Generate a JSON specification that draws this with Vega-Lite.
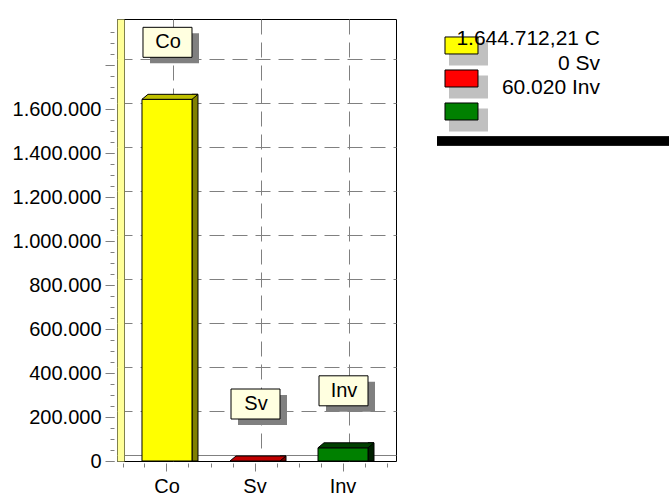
{
  "$schema": "https://vega.github.io/schema/vega-lite/v6.json",
  "padding": {"left": 11, "top": 18, "right": 0, "bottom": 0},
  "background": "white",
  "datasets": {
    "bars": [
      {"name": "Co", "value": 1644712.21, "legend": "1.644.712,21 C"},
      {"name": "Sv", "value": 0, "legend": "0 Sv"},
      {"name": "Inv", "value": 60020, "legend": "60.020 Inv"}
    ]
  },
  "spacing": 35,
  "hconcat": [
    {
      "width": 279,
      "height": 442,
      "data": {"name": "bars"},
      "view": {"stroke": "black", "strokeWidth": 1},
      "resolve": {"scale": {"fill": "independent"}, "axis": {"x": "independent", "y": "independent"}},
      "layer": [
        {
          "mark": {"type": "bar", "width": 6, "xOffset": 28, "yOffset": -5, "stroke": "black", "strokeWidth": 1},
          "encoding": {
            "x": {"field": "name", "type": "nominal", "sort": null,
              "axis": {"orient": "bottom", "bandPosition": 0.25, "tickSize": 4, "offset": 2, "labels": false, "domain": false, "grid": false, "title": null, "tickColor": "#808080"}},
            "y": {"field": "value", "type": "quantitative",
              "axis": {"orient": "left", "values": [], "ticks": false, "labels": false, "grid": false, "domain": true, "domainColor": "black", "domainWidth": 1, "offset": -7, "title": null}},
            "y2": {"datum": 0},
            "fill": {"field": "name", "type": "nominal", "scale": {"domain": ["Co", "Sv", "Inv"], "range": ["#808000", "#800000", "#002000"]}, "legend": null}
          }
        },
        {
          "mark": {"type": "bar", "width": 50, "stroke": "black", "strokeWidth": 1},
          "encoding": {
            "x": {"field": "name", "type": "nominal", "sort": null,
              "scale": {"type": "band", "domain": ["Co", "Sv", "Inv"], "paddingInner": 0, "paddingOuter": 0.0852, "align": 0.4},
              "axis": {"orient": "bottom", "tickSize": 8, "offset": 2, "labelFontSize": 20, "labelColor": "black", "labelPadding": 5, "labelAngle": 0, "domain": false, "grid": false, "title": null, "tickColor": "#808080"}},
            "y": {"field": "value", "type": "quantitative",
              "scale": {"domain": [0, 2010000], "nice": false, "zero": true},
              "axis": {"orient": "left", "values": [0, 200000, 400000, 600000, 800000, 1000000, 1200000, 1400000, 1600000, 1800000], "format": ",d", "labelExpr": "datum.value > 1600000 ? '' : datum.label", "tickSize": 9, "offset": 3, "labelPadding": 4, "labelFontSize": 20, "labelColor": "black", "tickColor": "#808080", "domain": false, "grid": false, "title": null}},
            "y2": {"datum": 0},
            "fill": {"field": "name", "type": "nominal", "scale": {"domain": ["Co", "Sv", "Inv"], "range": ["#FFFF00", "#FF0000", "#008000"]}, "legend": null}
          }
        },
        {
          "mark": {"type": "point", "shape": "M-25,0L25,0L31,-5L-19,-5Z", "size": 4, "filled": true, "opacity": 1, "stroke": "black", "strokeWidth": 1},
          "encoding": {
            "x": {"field": "name", "type": "nominal", "sort": null,
              "axis": {"orient": "bottom", "grid": true, "gridDash": [15, 8], "gridColor": "#808080", "tickOffset": 6, "ticks": false, "labels": false, "domain": false, "title": null}},
            "y": {"field": "value", "type": "quantitative",
              "axis": {"orient": "left", "values": [0, 200000, 400000, 600000, 800000, 1000000, 1200000, 1400000, 1600000, 1800000], "grid": true, "gridDash": {"condition": {"test": "datum.value === 0", "value": []}, "value": [15, 8]}, "gridColor": "#808080", "tickOffset": -6, "ticks": false, "labels": false, "domain": true, "domainColor": "#FFFF99", "domainWidth": 7, "offset": -3.5, "title": null}},
            "fill": {"field": "name", "type": "nominal", "scale": {"domain": ["Co", "Sv", "Inv"], "range": ["#C0C000", "#C00000", "#004000"]}, "legend": null}
          }
        },
        {
          "mark": {"type": "point", "shape": "M-17,-66H32V-36H-17Z", "size": 4, "filled": true, "opacity": 1, "color": "#808080"},
          "encoding": {
            "x": {"field": "name", "type": "nominal", "sort": null,
              "axis": {"orient": "bottom", "bandPosition": 0.75, "tickSize": 4, "offset": 2, "labels": false, "domain": false, "grid": false, "title": null, "tickColor": "#808080"}},
            "y": {"field": "value", "type": "quantitative",
              "axis": {"orient": "left", "values": [0, 50000, 100000, 150000, 200000, 250000, 300000, 350000, 400000, 450000, 500000, 550000, 600000, 650000, 700000, 750000, 800000, 850000, 900000, 950000, 1000000, 1050000, 1100000, 1150000, 1200000, 1250000, 1300000, 1350000, 1400000, 1450000, 1500000, 1550000, 1600000, 1650000, 1700000, 1750000, 1800000, 1850000, 1900000, 1950000], "tickSize": 4, "offset": 3, "labels": false, "domain": false, "grid": false, "title": null, "tickColor": "#808080"}}
          }
        },
        {
          "mark": {"type": "point", "shape": "M-24,-72H25V-42H-24Z", "size": 4, "filled": true, "opacity": 1, "color": "#FFFFE0", "stroke": "black", "strokeWidth": 1},
          "encoding": {
            "x": {"field": "name", "type": "nominal", "sort": null,
              "axis": {"orient": "bottom", "tickBand": "extent", "tickSize": 4, "offset": 2, "labels": false, "domain": false, "grid": false, "title": null, "tickColor": "#808080"}},
            "y": {"field": "value", "type": "quantitative", "axis": null}
          }
        },
        {
          "mark": {"type": "text", "dy": -57, "dx": 1, "fontSize": 20, "font": "Liberation Sans", "color": "black", "baseline": "middle", "align": "center"},
          "encoding": {
            "x": {"field": "name", "type": "nominal", "sort": null, "axis": null},
            "y": {"field": "value", "type": "quantitative", "axis": null},
            "text": {"field": "name"}
          }
        }
      ]
    },
    {
      "width": 232,
      "height": 122,
      "data": {"name": "bars"},
      "view": {"stroke": null},
      "resolve": {"scale": {"y": "independent"}},
      "layer": [
        {
          "layer": [
            {
              "mark": {"type": "point", "shape": "M-12.5,-3H26.5V20H-12.5Z", "size": 4, "filled": true, "opacity": 1, "color": "#C0C0C0"},
              "encoding": {
                "x": {"datum": "swatch", "type": "nominal",
                  "scale": {"type": "point", "domain": ["swatch", "label"], "padding": 0.3375, "align": 0.262},
                  "axis": null},
                "y": {"field": "name", "type": "nominal", "sort": null,
                  "scale": {"type": "point", "domain": ["Co", "Sv", "Inv"], "padding": 0.848, "align": 0.473}, "axis": null}
              }
            },
            {
              "mark": {"type": "point", "shape": "M-16.5,-8.5H16.5V8.5H-16.5Z", "size": 4, "filled": true, "opacity": 1, "stroke": "black", "strokeWidth": 1},
              "encoding": {
                "x": {"datum": "swatch", "type": "nominal", "axis": null},
                "y": {"field": "name", "type": "nominal", "sort": null, "axis": null},
                "fill": {"field": "name", "type": "nominal", "scale": {"domain": ["Co", "Sv", "Inv"], "range": ["#FFFF00", "#FF0000", "#008000"]}, "legend": null}
              }
            }
          ]
        },
        {
          "mark": {"type": "text", "align": "right", "baseline": "middle", "fontSize": 21, "font": "Liberation Sans", "color": "black"},
          "encoding": {
            "x": {"datum": "label", "type": "nominal", "axis": null},
            "y": {"field": "name", "type": "nominal", "sort": null,
              "scale": {"type": "band", "domain": ["Co", "Sv", "Inv"], "paddingInner": 0, "paddingOuter": 0.99, "align": 0.16}, "axis": null},
            "text": {"field": "legend"}
          }
        },
        {
          "mark": {"type": "rule", "strokeWidth": 9, "color": "black", "strokeCap": "butt"},
          "encoding": {
            "y": {"datum": 0, "type": "quantitative", "scale": {"domain": [0, 1]}, "axis": null}
          }
        }
      ]
    }
  ],
  "config": {
    "font": "Liberation Sans",
    "locale": {"number": {"decimal": ",", "thousands": ".", "grouping": [3], "currency": ["", " €"]}},
    "axis": {"labelFont": "Liberation Sans"}
  }
}
